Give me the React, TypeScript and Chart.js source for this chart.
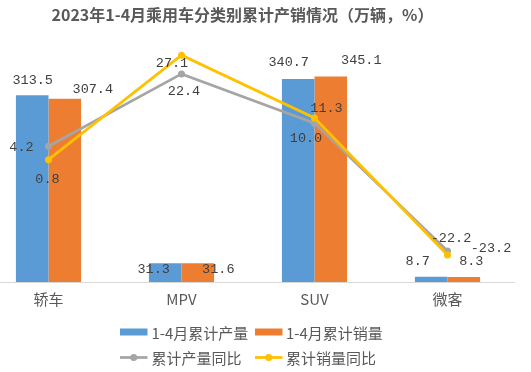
import React, { useEffect, useRef } from "react";
import { Chart, registerables } from "chart.js";

Chart.register(...registerables);

// ---- data ----
const categories = ["轿车", "MPV", "SUV", "微客"];
const production = [313.5, 31.3, 340.7, 8.7];
const sales = [307.4, 31.6, 345.1, 8.3];
const productionYoY = [4.2, 22.4, 10.0, -22.2];
const salesYoY = [0.8, 27.1, 11.3, -23.2];
const seriesNames = ["1-4月累计产量", "1-4月累计销量", "累计产量同比", "累计销量同比"];
const chartTitle = "2023年1-4月乘用车分类别累计产销情况（万辆，%）";

// ---- styling ----
const COLORS = ["#5B9BD5", "#ED7D31", "#A5A5A5", "#FFC000"];
const SHIFT = 60; // canvas extends left beyond the page (plot area starts off-page)
const CANVAS_W = 531 + SHIFT;
const CANVAS_H = 372;
const CJK = "'Noto Sans CJK SC', 'Noto Sans', sans-serif";
const MONO = "'Liberation Mono', 'DejaVu Sans Mono', monospace";

// data-label offsets (dx, dy) from each mark's anchor, per dataset index
const labelOffsets: Record<number, number[][]> = {
  0: [[0.5, -15], [-11.5, 6], [-9.5, -17], [-13.5, -15]],
  1: [[28, -9], [20.5, 6.5], [30.5, -16], [7.5, -16]],
  2: [[-27, 1], [2.5, 17.5], [-8.5, 15], [3.5, -13]],
  3: [[-1, 20], [-9.5, 8], [12, -10], [43.5, -7]],
};

const dataLabelPlugin = {
  id: "dataLabels",
  afterDatasetsDraw(chart: any) {
    const ctx = chart.ctx;
    ctx.save();
    ctx.font = `13.5px ${MONO}`;
    ctx.fillStyle = "#404040";
    ctx.textAlign = "center";
    ctx.textBaseline = "middle";
    chart.data.datasets.forEach((ds: any, i: number) => {
      const meta = chart.getDatasetMeta(i);
      meta.data.forEach((el: any, j: number) => {
        const [dx, dy] = labelOffsets[i][j];
        const v = ds.data[j] as number;
        ctx.fillText(v.toFixed(1), el.x + dx, el.y + dy);
      });
    });
    ctx.restore();
  },
};

const titleLegendPlugin = {
  id: "titleLegend",
  afterDraw(chart: any) {
    const ctx = chart.ctx;
    ctx.save();
    // title
    ctx.font = `bold 16px ${CJK}`;
    ctx.fillStyle = "#595959";
    ctx.textAlign = "center";
    ctx.textBaseline = "middle";
    ctx.fillText(chartTitle, 242.5 + SHIFT, 15);

    // legend
    ctx.font = `15px ${CJK}`;
    ctx.textAlign = "left";
    const items = [
      { kind: "box", x: 120, tx: 151.5, y: 332, color: COLORS[0], label: seriesNames[0] },
      { kind: "box", x: 255, tx: 286, y: 332, color: COLORS[1], label: seriesNames[1] },
      { kind: "line", x: 120, tx: 151.5, y: 357.5, color: COLORS[2], label: seriesNames[2] },
      { kind: "line", x: 255, tx: 286, y: 357.5, color: COLORS[3], label: seriesNames[3] },
    ];
    items.forEach((it) => {
      const x = it.x + SHIFT;
      if (it.kind === "box") {
        ctx.fillStyle = it.color;
        ctx.fillRect(x, it.y - 3.5, 27.5, 7);
      } else {
        ctx.strokeStyle = it.color;
        ctx.lineWidth = 2.75;
        ctx.beginPath();
        ctx.moveTo(x, it.y);
        ctx.lineTo(x + 27.5, it.y);
        ctx.stroke();
        ctx.fillStyle = it.color;
        ctx.beginPath();
        ctx.arc(x + 13.75, it.y, 3.5, 0, Math.PI * 2);
        ctx.fill();
      }
      ctx.fillStyle = "#595959";
      ctx.fillText(it.label, it.tx + SHIFT, it.y + 1);
    });
    ctx.restore();
  },
};

export default function App() {
  const ref = useRef<HTMLCanvasElement | null>(null);

  useEffect(() => {
    if (!ref.current) return;
    const chart = new Chart(ref.current, {
      type: "bar",
      data: {
        labels: categories,
        datasets: [
          {
            type: "bar",
            label: seriesNames[0],
            data: production,
            backgroundColor: COLORS[0],
            yAxisID: "y",
            order: 2,
            barPercentage: 1,
            categoryPercentage: 0.49,
          },
          {
            type: "bar",
            label: seriesNames[1],
            data: sales,
            backgroundColor: COLORS[1],
            yAxisID: "y",
            order: 3,
            barPercentage: 1,
            categoryPercentage: 0.49,
          },
          {
            type: "line",
            label: seriesNames[2],
            data: productionYoY,
            borderColor: COLORS[2],
            backgroundColor: COLORS[2],
            borderWidth: 2.75,
            pointRadius: 3.5,
            pointBorderWidth: 0,
            tension: 0,
            yAxisID: "y1",
            order: 1,
          },
          {
            type: "line",
            label: seriesNames[3],
            data: salesYoY,
            borderColor: COLORS[3],
            backgroundColor: COLORS[3],
            borderWidth: 2.75,
            pointRadius: 3.5,
            pointBorderWidth: 0,
            tension: 0,
            yAxisID: "y1",
            order: 0,
          },
        ] as any,
      },
      options: {
        animation: false,
        responsive: false,
        devicePixelRatio: 1,
        layout: { padding: { left: 42, right: 17, top: 43.7, bottom: 56 } },
        plugins: {
          legend: { display: false },
          title: { display: false },
          tooltip: { enabled: false },
        },
        scales: {
          x: {
            grid: { display: false, drawTicks: false },
            border: { display: true, color: "#D9D9D9", width: 1 },
            ticks: {
              color: "#595959",
              font: { family: CJK, size: 15 },
              padding: 8,
            },
          },
          y: { display: false, min: 0, max: 400 },
          y1: { display: false, min: -30, max: 30 },
        },
      },
      plugins: [dataLabelPlugin, titleLegendPlugin],
    });
    return () => chart.destroy();
  }, []);

  return (
    <div
      style={{
        position: "fixed",
        left: 0,
        top: 0,
        width: 531,
        height: 372,
        overflow: "hidden",
        background: "#fff",
      }}
    >
      <canvas
        ref={ref}
        width={CANVAS_W}
        height={CANVAS_H}
        style={{ position: "absolute", left: -SHIFT, top: 0, width: CANVAS_W, height: CANVAS_H }}
      />
    </div>
  );
}
